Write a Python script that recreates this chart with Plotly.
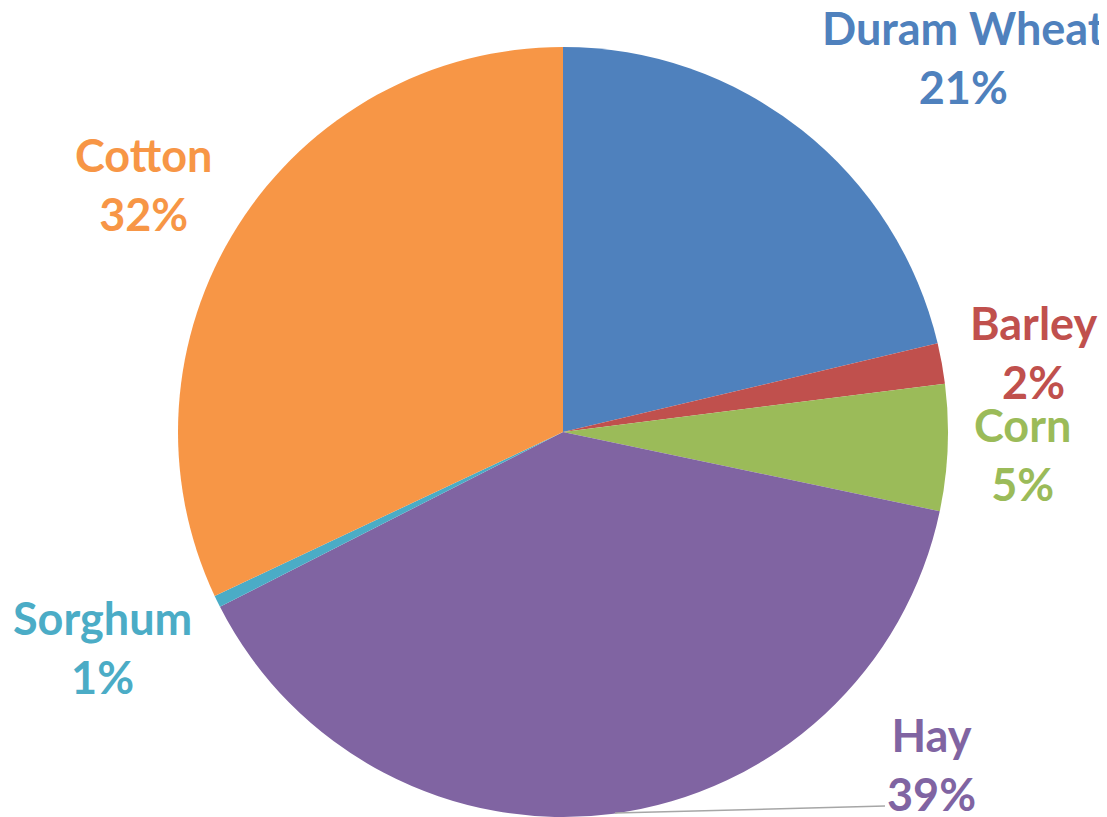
import math
import plotly.graph_objects as go

# ---- data ----
crops = ["Duram Wheat", "Barley", "Corn", "Hay", "Sorghum", "Cotton"]
shares = [21.3, 1.7, 5.3, 39.2, 0.5, 32.0]

# ---- styles ----
colors = ["#4F81BD", "#C0504D", "#9BBB59", "#8064A2", "#4BACC6", "#F79646"]
OFF = 8                      # page body margin
W, H = 1107 - OFF, 817 - OFF
# label centres in window pixels (x, y from top)
label_pos = [(963, 58), (1033, 352), (1022, 454), (931, 764), (102, 647), (143, 184)]


def px(x):
    return (x - OFF) / W


def py(y):
    return 1 - (y - OFF) / H


total = sum(shares)
pct_text = [f"{int(math.floor(v / total * 100 + 0.5))}%" for v in shares]

fig = go.Figure(
    go.Pie(
        labels=crops,
        values=shares,
        sort=False,
        direction="clockwise",
        rotation=0,
        marker=dict(colors=colors, line=dict(width=0)),
        textinfo="none",
        hoverinfo="label+percent",
        showlegend=False,
        domain=dict(x=[px(178), px(948)], y=[py(817), py(47)]),
    )
)

for name, pct, col, (lx, ly) in zip(crops, pct_text, colors, label_pos):
    fig.add_annotation(
        x=px(lx), y=py(ly), xref="paper", yref="paper",
        text=f"<b>{name}</b><br><b>{pct}</b>",
        showarrow=False, xanchor="center", yanchor="middle",
        font=dict(family="Lato", size=45, color=col),
    )

# leader line for Hay label
fig.add_shape(type="line", xref="paper", yref="paper",
              x0=px(615), y0=py(813), x1=px(885), y1=py(806),
              line=dict(color="#A6A6A6", width=1.5))

fig.update_layout(
    width=W, height=H,
    margin=dict(l=0, r=0, t=0, b=0),
    paper_bgcolor="white", plot_bgcolor="white",
)

fig.write_html("out.html")
